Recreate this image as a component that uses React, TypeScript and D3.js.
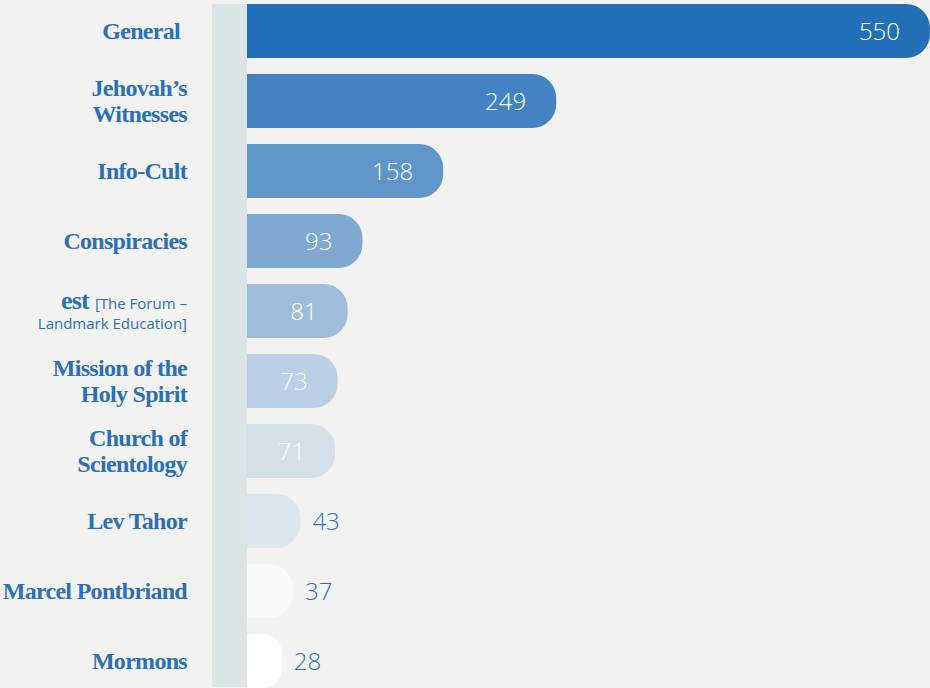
import React from "react";
import * as d3 from "d3";

const categories = [
  "General",
  "Jehovah's Witnesses",
  "Info-Cult",
  "Conspiracies",
  "est [The Forum – Landmark Education]",
  "Mission of the Holy Spirit",
  "Church of Scientology",
  "Lev Tahor",
  "Marcel Pontbriand",
  "Mormons",
];
const values = [550, 249, 158, 93, 81, 73, 71, 43, 37, 28];
const labelLines = [
  ["General"],
  ["Jehovah’s", "Witnesses"],
  ["Info-Cult"],
  ["Conspiracies"],
  ["est", "Landmark Education]"],
  ["Mission of the", "Holy Spirit"],
  ["Church of", "Scientology"],
  ["Lev Tahor"],
  ["Marcel Pontbriand"],
  ["Mormons"],
];
const barColors = [
  "#2370b8",
  "#4383c1",
  "#6096c9",
  "#7fa9d2",
  "#9dbddb",
  "#bbd0e4",
  "#d3e0ea",
  "#dee6ed",
  "#f9f9f9",
  "#ffffff",
];
const insideLabel = [true, true, true, true, true, true, true, false, false, false];

const W = 930;
const H = 688;
const BLUE = "#2b70b7";

export default function App() {
  const y = d3
    .scaleBand<string>()
    .domain(categories)
    .range([4, 688])
    .paddingInner(16 / 70)
    .paddingOuter(0);
  const x = d3.scaleLinear().domain([0, 550]).range([247, 930]);
  const bw = y.bandwidth();

  const serif = "'Liberation Serif', 'Times New Roman', serif";
  const sans = "'Open Sans', sans-serif";

  return (
    <div style={{ position: "absolute", left: 0, top: 0, width: W, height: H }}>
      <svg width={W} height={H} style={{ display: "block" }}>
        <rect x={0} y={0} width={W} height={H} fill="#f2f2f1" />
        <rect x={212} y={4} width={35} height={683} fill="#dbe4e6" />
        {categories.map((c, i) => {
          const y0 = y(c)!;
          const cy = y0 + bw / 2;
          const x0 = x(0);
          const x1 = x(values[i]);
          const w = x1 - x0;
          const r = Math.min(24, w * 0.55);
          const path = `M${x0},${y0} H${x1 - r} A${r},${r} 0 0 1 ${x1},${y0 + r} V${y0 + bw - r} A${r},${r} 0 0 1 ${x1 - r},${y0 + bw} H${x0} Z`;
          const lines = labelLines[i];
          const baselines =
            lines.length === 1 ? [cy + 8] : [cy - 5, cy + 21];
          const labelRight = i === 0 ? 180 : 187;
          return (
            <g key={c}>
              <path d={path} fill={barColors[i]} />
              {insideLabel[i] ? (
                <text
                  x={x1 - 30}
                  y={cy + 9}
                  textAnchor="end"
                  fill="#ffffff"
                  fontFamily={sans}
                  fontWeight={300}
                  fontSize={24}
                >
                  {values[i]}
                </text>
              ) : (
                <text
                  x={x1 + 12}
                  y={cy + 9}
                  textAnchor="start"
                  fill={BLUE}
                  fontFamily={sans}
                  fontWeight={300}
                  fontSize={24}
                >
                  {values[i]}
                </text>
              )}
              {i === 4 ? (
                <>
                  <text x={187} y={cy - 2} textAnchor="end" fill={BLUE}>
                    <tspan fontFamily={serif} fontWeight={700} fontSize={26} letterSpacing={-0.8}>
                      est
                    </tspan>
                    <tspan fontFamily={sans} fontSize={15} dx={6}>
                      [The Forum –
                    </tspan>
                  </text>
                  <text
                    x={187}
                    y={cy + 18}
                    textAnchor="end"
                    fill={BLUE}
                    fontFamily={sans}
                    fontSize={15}
                  >
                    {lines[1]}
                  </text>
                </>
              ) : (
                lines.map((ln, j) => (
                  <text
                    key={j}
                    x={labelRight}
                    y={baselines[j]}
                    textAnchor="end"
                    fill={BLUE}
                    fontFamily={serif}
                    fontWeight={700}
                    fontSize={24}
                    letterSpacing={-0.7}
                  >
                    {ln}
                  </text>
                ))
              )}
            </g>
          );
        })}
      </svg>
    </div>
  );
}
